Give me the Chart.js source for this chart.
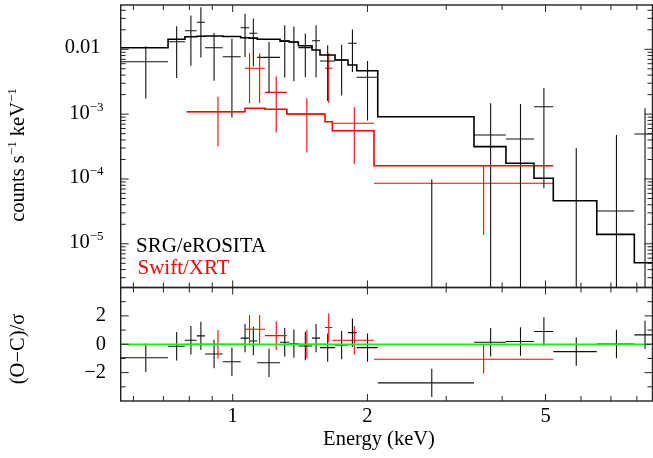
<!DOCTYPE html>
<html>
<head>
<meta charset="utf-8">
<script src="https://cdn.jsdelivr.net/npm/chart.js@4.4.0/dist/chart.umd.min.js"></script>
<style>
  body { margin: 0; background: #fff; }
  #wrap { position: relative; width: 653px; height: 458px; }
  canvas { position: absolute; left: 0; }
</style>
</head>
<body>
<div id="wrap">
  <canvas id="specChart" width="653" height="295" style="top:0px"></canvas>
  <canvas id="resChart" width="653" height="178" style="top:280px"></canvas>
</div>
<script>
// SRG/eROSITA spectrum (bin edges in keV, counts s^-1 keV^-1)
var eroEdges = [0.562, 0.717, 0.782, 0.831, 0.867, 0.950, 1.042, 1.089, 1.135, 1.276, 1.338, 1.402,
  1.504, 1.567, 1.693, 1.810, 1.893, 2.109, 3.461, 4.079, 4.713, 5.204, 6.509, 7.896, 8.79];
var eroRate = [0.00644, 0.0131, 0.01936, 0.0261, 0.01058, 0.00769, 0.02153, 0.01765, 0.00752, 0.01358,
  0.01282, 0.0106, 0.01358, 0.0066, 0.00684, 0.01237, 0.0037, -3.74e-4, 4.76e-4, 4.13e-4, 1.302e-3,
  -2.25e-4, 3.2e-5, 4.94e-4];
var eroErr = [0.0047, 0.0095, 0.0138, 0.0186, 0.0073, 0.0068, 0.0139, 0.0122, 0.0054, 0.0099, 0.0096,
  0.0069, 0.0099, 0.005, 0.0049, 0.0079, 0.0029, 4.73e-4, 9.9e-4, 1.02e-3, 1.23e-3, 5.22e-4, 4.44e-4, 7.36e-4];
var eroModel = [0.01058, 0.01426, 0.01564, 0.01587, 0.01604, 0.01575, 0.0151, 0.0149, 0.01426, 0.01329,
  0.01296, 0.01136, 0.00975, 0.00817, 0.00684, 0.00573, 0.00468, 9.13e-4, 3.15e-4, 1.744e-4, 1.024e-4,
  4.62e-5, 1.40e-5, 5.11e-6];
var eroResid = [-0.95, -0.14, 0.28, 0.59, -0.69, -1.23, 0.43, 0.23, -1.30, 0.14, 0.04, -0.12, 0.43,
  -0.24, -0.05, 0.82, -0.24, -2.72, 0.14, 0.19, 0.90, -0.52, 0.02, 0.66];

// Swift/XRT spectrum
var xrtEdges = [0.789, 1.065, 1.116, 1.181, 1.321, 1.608, 1.670, 2.069, 5.204];
var xrtRate = [1.09e-3, 5.09e-3, 5.09e-3, 2.17e-3, 1.005e-3, 5.09e-3, 7.22e-4, 8.57e-5];
var xrtErr = [7.7e-4, 3.6e-3, 3.6e-3, 1.65e-3, 7.5e-4, 3.6e-3, 5.5e-4, 7.2e-5];
var xrtModel = [1.09e-3, 1.23e-3, 1.23e-3, 1.187e-3, 1.005e-3, 7.64e-4, 5.55e-4, 1.602e-4];
var xrtResid = [0.0, 1.06, 1.06, 0.61, 0.0, 1.18, 0.28, -1.06];

// axes
var energyTicks = [0.6, 0.7, 0.8, 0.9, 1, 2, 3, 4, 5, 6, 7, 8];
var energyLabels = [1, 2, 5];
var countLabels = [1e-2, 1e-3, 1e-4, 1e-5];
var residTicks = [-3, -2, -1, 0, 1, 2, 3];
var residLabels = [-2, 0, 2];

var X_MIN = 0.562, X_MAX = 8.67;
var Y_MIN = 2.118e-6, Y_MAX = 0.04825;
var FONT = '"Liberation Serif", "Times New Roman", serif';
var BIG = '20.5px ' + FONT;

// cross = horizontal bin bar + vertical error bar, broken by null points
function crosses(edges, vals, errs, floor) {
  var pts = [];
  for (var i = 0; i < vals.length; i++) {
    var lo = edges[i], hi = edges[i + 1], mid = (lo + hi) / 2;
    var bot = vals[i] - errs[i];
    if (floor && bot <= 0) bot = floor;
    pts.push({ x: lo, y: vals[i] }, { x: hi, y: vals[i] }, { x: mid, y: null });
    pts.push({ x: mid, y: bot }, { x: mid, y: vals[i] + errs[i] }, { x: mid, y: null });
  }
  return pts;
}

function steps(edges, vals) {
  var pts = vals.map(function (v, i) { return { x: edges[i], y: v }; });
  pts.push({ x: edges[edges.length - 1], y: vals[vals.length - 1] });
  return pts;
}

function logTicks(lo, hi) {
  var out = [];
  for (var d = -7; d <= 1; d++) {
    for (var m = 1; m <= 9; m++) {
      var v = m * Math.pow(10, d);
      if (v >= lo && v <= hi) out.push({ v: v, major: m === 1 });
    }
  }
  return out;
}

function lineDs(data, color, width, extra) {
  var ds = { data: data, borderColor: color, borderWidth: width, pointRadius: 0, tension: 0, fill: false };
  for (var k in extra) ds[k] = extra[k];
  return ds;
}

// frame with inward ticks on all four sides
function framePlugin(xTicks, yTicks, drawText) {
  return {
    id: 'frame',
    afterDatasetsDraw: function (chart) {
      var ctx = chart.ctx, a = chart.chartArea;
      var xs = chart.scales.x, ys = chart.scales.y;
      ctx.save();
      ctx.strokeStyle = '#222';
      ctx.lineWidth = 1;
      ctx.beginPath();
      xTicks.forEach(function (t) {
        var px = xs.getPixelForValue(t.v), len = t.major ? 7 : 5;
        ctx.moveTo(px, a.bottom); ctx.lineTo(px, a.bottom - len);
        ctx.moveTo(px, a.top); ctx.lineTo(px, a.top + len);
      });
      yTicks.forEach(function (t) {
        var py = ys.getPixelForValue(t.v), len = t.major ? 8 : 5;
        ctx.moveTo(a.left, py); ctx.lineTo(a.left + len, py);
        ctx.moveTo(a.right, py); ctx.lineTo(a.right - len, py);
      });
      ctx.stroke();
      ctx.lineWidth = 1.4;
      ctx.strokeRect(a.left, a.top, a.right - a.left, a.bottom - a.top);
      ctx.restore();
      ctx.save();
      drawText(ctx, xs, ys);
      ctx.restore();
    }
  };
}

function supText(ctx, base, sup, xRight, yMid) {
  ctx.textBaseline = 'middle';
  ctx.textAlign = 'right';
  ctx.font = '13px ' + FONT;
  var w = ctx.measureText(sup).width;
  ctx.fillText(sup, xRight, yMid - 6);
  ctx.font = BIG;
  ctx.fillText(base, xRight - w, yMid);
}

// ---- spectrum panel ----
var specTicksX = energyTicks.map(function (v) { return { v: v, major: energyLabels.indexOf(v) >= 0 }; });
var specTicksY = logTicks(Y_MIN, Y_MAX);

new Chart(document.getElementById('specChart'), {
  type: 'line',
  data: {
    datasets: [
      lineDs(steps(eroEdges, eroModel), '#000', 1.6, { stepped: true }),
      lineDs(steps(xrtEdges, xrtModel), '#ff0000', 1.6, { stepped: true }),
      lineDs(crosses(eroEdges, eroRate, eroErr, 1e-12), '#111', 1.1, {}),
      lineDs(crosses(xrtEdges, xrtRate, xrtErr, 1e-12), '#ff0000', 1.1, {})
    ]
  },
  options: {
    responsive: false,
    animation: false,
    events: [],
    layout: { padding: { left: 120.7, right: 0.5, top: 5, bottom: 7.5 } },
    plugins: { legend: { display: false }, tooltip: { enabled: false } },
    scales: {
      x: { type: 'logarithmic', min: X_MIN, max: X_MAX, display: false },
      y: { type: 'logarithmic', min: Y_MIN, max: Y_MAX, display: false }
    }
  },
  plugins: [framePlugin(specTicksX, specTicksY, function (ctx, xs, ys) {
    ctx.fillStyle = '#000';
    countLabels.forEach(function (v) {
      var py = ys.getPixelForValue(v);
      if (v === 1e-2) {
        ctx.font = BIG;
        ctx.textAlign = 'right';
        ctx.textBaseline = 'middle';
        ctx.fillText('0.01', 100.5, py - 1.5);
      } else {
        supText(ctx, '10', '\u2212' + Math.round(-Math.log10(v)), 103.5, py - 1);
      }
    });
    // y axis title
    ctx.translate(19, 155);
    ctx.rotate(-Math.PI / 2);
    var parts = [['counts s', 20.5, 0], ['\u22121', 13, -6], [' keV', 20.5, 0], ['\u22121', 13, -6]];
    var total = 0;
    parts.forEach(function (p) { ctx.font = p[1] + 'px ' + FONT; total += ctx.measureText(p[0]).width; });
    var cx = -total / 2;
    ctx.textAlign = 'left';
    ctx.textBaseline = 'middle';
    parts.forEach(function (p) {
      ctx.font = p[1] + 'px ' + FONT;
      ctx.fillText(p[0], cx, p[2]);
      cx += ctx.measureText(p[0]).width;
    });
    ctx.setTransform(1, 0, 0, 1, 0, 0);
    // legend
    ctx.font = '21px ' + FONT;
    ctx.textAlign = 'left';
    ctx.textBaseline = 'middle';
    ctx.fillStyle = '#000';
    ctx.fillText('SRG/eROSITA', 136, 246.7);
    ctx.fillStyle = '#ff0000';
    ctx.fillText('Swift/XRT', 137.5, 268.3);
  })]
});

// ---- residual panel ----
var resTicksY = residTicks.map(function (v) { return { v: v, major: residLabels.indexOf(v) >= 0 }; });

new Chart(document.getElementById('resChart'), {
  type: 'line',
  data: {
    datasets: [
      lineDs([{ x: X_MIN, y: 0 }, { x: X_MAX, y: 0 }], '#00ff00', 1.3, { order: 0 }),
      lineDs(crosses(eroEdges, eroResid, eroResid.map(function () { return 1; }), 0), '#111', 1.1, { order: 2 }),
      lineDs(crosses(xrtEdges, xrtResid, xrtResid.map(function () { return 1; }), 0), '#ff0000', 1.1, { order: 1 })
    ]
  },
  options: {
    responsive: false,
    animation: false,
    events: [],
    layout: { padding: { left: 120.7, right: 0.5, top: 7.5, bottom: 57 } },
    plugins: { legend: { display: false }, tooltip: { enabled: false } },
    scales: {
      x: { type: 'logarithmic', min: X_MIN, max: X_MAX, display: false },
      y: { type: 'linear', min: -4, max: 4, display: false }
    }
  },
  plugins: [framePlugin(specTicksX, resTicksY, function (ctx, xs, ys) {
    ctx.fillStyle = '#000';
    ctx.font = BIG;
    ctx.textBaseline = 'middle';
    ctx.textAlign = 'right';
    residLabels.forEach(function (v) {
      ctx.fillText(v < 0 ? '\u2212' + (-v) : String(v), 106, ys.getPixelForValue(v));
    });
    ctx.textAlign = 'center';
    energyLabels.forEach(function (v) {
      ctx.fillText(String(v), xs.getPixelForValue(v), 136.7);
    });
    ctx.fillText('Energy (keV)', 379, 160);
    ctx.translate(18.5, 69);
    ctx.rotate(-Math.PI / 2);
    ctx.fillText('(O\u2212C)/\u03c3', 0, 0);
  })]
});
</script>
</body>
</html>
